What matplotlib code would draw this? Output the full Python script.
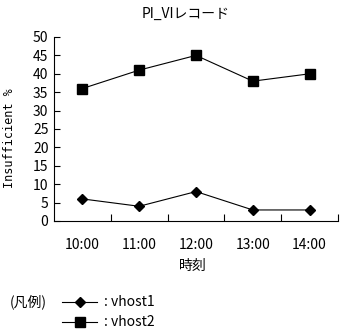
import matplotlib
matplotlib.use("Agg")
import matplotlib.pyplot as plt
from matplotlib.lines import Line2D

plt.rcParams['font.family'] = ['Noto Sans CJK JP', 'DejaVu Sans']

times = ["10:00", "11:00", "12:00", "13:00", "14:00"]
vhost1 = [6, 4, 8, 3, 3]
vhost2 = [36, 41, 45, 38, 40]
yticks = [0, 5, 10, 15, 20, 25, 30, 35, 40, 45, 50]

W, H = 340, 335
fig = plt.figure(figsize=(W / 100, H / 100), dpi=100)
ax = fig.add_axes([54 / W, 1 - 221 / H, (338 - 54) / W, (221 - 37) / H])

x = list(range(len(times)))
ax.plot(x, vhost1, color="black", lw=0.8, marker="D", ms=5.2)
ax.plot(x, vhost2, color="black", lw=0.8, marker="s", ms=6.6)

ax.set_xlim(-0.5, len(times) - 0.5)
ax.set_ylim(0, 50)
ax.set_yticks(yticks)
ax.set_yticklabels([str(v) for v in yticks], fontsize=10)

# category ticks sit between the categories, labels centred on them
ax.set_xticks([i + 0.5 for i in x])
ax.set_xticklabels([])
ax.set_xticks(x, minor=True)
ax.set_xticklabels(times, minor=True, fontsize=10)
ax.tick_params(axis="x", which="minor", length=0, pad=12)
ax.tick_params(axis="x", which="major", direction="in", length=5, width=0.8)
ax.tick_params(axis="y", direction="in", length=4, width=0.8, pad=4)

for s in ("top", "right"):
    ax.spines[s].set_visible(False)
for s in ("left", "bottom"):
    ax.spines[s].set_linewidth(0.8)

fig.text(186 / W, 1 - 14 / H, "PI_VIレコード", ha="center", va="center", fontsize=10)
fig.text(10 / W, 1 - 138 / H, "Insufficient %", ha="center", va="center",
         rotation=90, fontsize=8.5, family=["DejaVu Sans Mono"])
fig.text(193 / W, 1 - 266 / H, "時刻", ha="center", va="center", fontsize=10)

# legend block drawn by hand
fig.text(10 / W, 1 - 302 / H, "(凡例)", ha="left", va="center", fontsize=10)
rows = [("vhost1", "D", 5.2, 302), ("vhost2", "s", 6.6, 322)]
for name, mk, ms, yy in rows:
    fy = 1 - yy / H
    fig.add_artist(Line2D([62 / W, 97 / W], [fy, fy], color="black", lw=0.8,
                          transform=fig.transFigure))
    fig.add_artist(Line2D([80 / W], [fy], color="black", marker=mk, ms=ms,
                          transform=fig.transFigure))
    fig.text(104 / W, fy, ": " + name, ha="left", va="center", fontsize=10)

fig.savefig("out.png", dpi=100)
